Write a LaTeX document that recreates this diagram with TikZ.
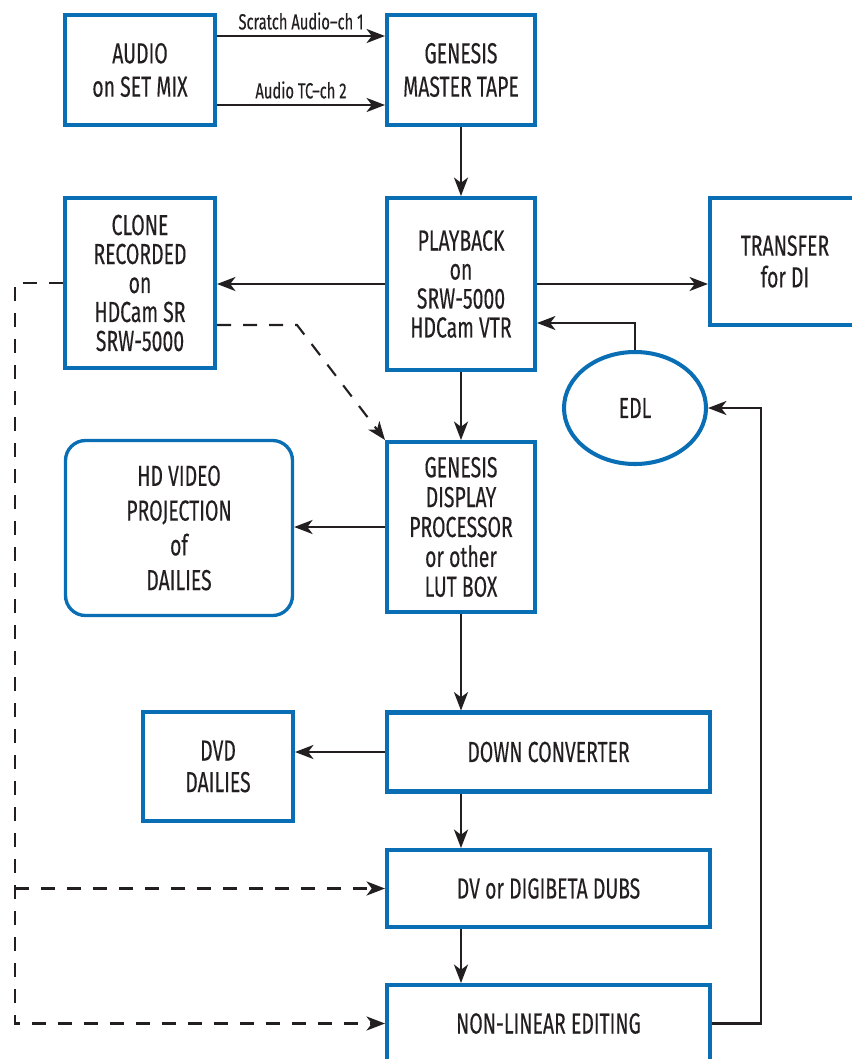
\documentclass[tikz,border=0pt]{standalone}
\usepackage{fontspec}
\setmainfont{Fira Sans}[FakeStretch=0.67, FakeBold=0.25]
\usetikzlibrary{arrows.meta, shapes.geometric}
\definecolor{boxblue}{RGB}{10,110,180}
\definecolor{ink}{RGB}{35,31,32}

\begin{document}
\begin{tikzpicture}[x=0.02cm, y=-0.02cm,
    sz/.style 2 args={minimum width=#1*0.02cm, minimum height=#2*0.02cm},
    blk/.style={draw=boxblue, line width=2.3pt, inner sep=0pt, align=center, text=ink, font=\fontsize{16.5}{16.5}\selectfont},
    conn/.style={draw=ink, line width=1.2pt, -{Stealth[length=10.5pt, width=8pt, inset=3pt]}},
    dsh/.style={conn, dash pattern=on 0.28cm off 0.24cm},
    lbl/.style={font=\fontsize{12.5}{13}\selectfont, text=ink, inner sep=3pt}]
  \useasboundingbox (0,0) rectangle (852,1059);

  \node[blk, sz={150}{110}, font=\fontsize{16.5}{19}\selectfont] (audio) at (140,70) {AUDIO\\on SET MIX};
  \node[blk, sz={148}{110}, font=\fontsize{16.5}{19}\selectfont] (master) at (461,70) {GENESIS\\MASTER TAPE};
  \node[blk, sz={150}{170}] (clone) at (140,283) {CLONE\\RECORDED\\on\\HDCam SR\\SRW-5000};
  \node[blk, sz={148}{172}] (playback) at (461,284) {PLAYBACK\\on\\SRW-5000\\HDCam VTR};
  \node[blk, sz={150}{127}, font=\fontsize{16.5}{18}\selectfont] (transfer) at (785,261.5) {TRANSFER\\for DI};
  \node[blk, ellipse, sz={142}{112}] (edl) at (635,408) {EDL};
  \node[blk, sz={148}{170}, font=\fontsize{16.5}{17}\selectfont] (display) at (461,527) {GENESIS\\DISPLAY\\PROCESSOR\\or other\\LUT BOX};
  \node[blk, line width=1.9pt, rounded corners=0.4cm, sz={227}{175}, font=\fontsize{16.5}{19.8}\selectfont] (hd) at (179,528) {HD VIDEO\\PROJECTION\\of\\DAILIES};
  \node[blk, sz={150}{109}, font=\fontsize{16.5}{18}\selectfont] (dvd) at (218,766.5) {DVD\\DAILIES};
  \node[blk, sz={323}{79}] (down) at (548.5,752) {DOWN CONVERTER};
  \node[blk, sz={323}{77}] (dv) at (548.5,888.5) {DV or DIGIBETA DUBS};
  \node[blk, sz={323}{77}] (nle) at (548.5,1023.5) {NON-LINEAR EDITING};
  \coordinate (rail) at (15,0);

  \draw[conn] ([yshift=0.68cm]audio.east) -- ([yshift=0.68cm]master.west) node[lbl, midway, above] {Scratch Audio--ch 1};
  \draw[conn] ([yshift=-0.7cm]audio.east) -- ([yshift=-0.7cm]master.west) node[lbl, midway, above] {Audio TC--ch 2};
  \draw[conn] (master.south) -- (playback.north);
  \draw[conn] (playback.west) -- (playback.west -| clone.east);
  \draw[conn] (playback.east) -- (playback.east -| transfer.west);
  \draw[conn] (edl.north) |- ([yshift=-0.78cm]playback.east);
  \draw[conn] (playback.south) -- (display.north);
  \draw[conn] (display.west) -- (display.west -| hd.east);
  \draw[conn] (display.south) -- (display.south |- down.north);
  \draw[conn] (down.west) -- (down.west -| dvd.east);
  \draw[conn] (display.south |- down.south) -- (display.south |- dv.north);
  \draw[conn] (display.south |- dv.south) -- (display.south |- nle.north);
  \draw[conn] (nle.east) -- ++(49,0) |- (edl.east);

  \draw[dsh] (clone.west) -| (rail |- nle.west) -- (nle.west);
  \draw[dsh] (rail |- dv.west) -- (dv.west);
  \draw[dsh] ([yshift=-0.84cm]clone.east) -- ++(80,0) -- (display.north west);
\end{tikzpicture}
\end{document}
